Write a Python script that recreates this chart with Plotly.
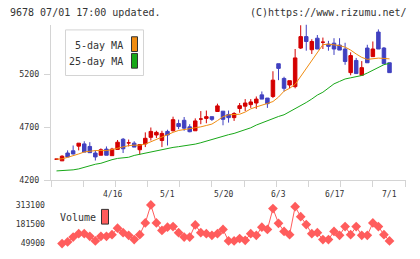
import plotly.graph_objects as go

W, H = 420, 259

# ---- data ----
idx = list(range(61))
label_idx = [10, 20, 30, 40, 50, 60]
label_text = ["4/16", "5/1", "5/20", "6/3", "6/17", "7/1"]

# candle colour: R = red (up / doji), B = blue (down)
colour = ["R","R","B","B","R","B","B","B","R","B","R","R","B","R","B","R","R","R","R","R",
          "B","R","B","B","B","R","R","R","B","R","B","B","R","R","R","R","R","B","B","R",
          "B","B","R","R","R","B","R","B","R","B","B","B","B","R","B","R","B","R","B","B","B"]
open_ = [4401,4385,4459,4480,4524,4545,4521,4459,4438,4496,4434,4493,4589,4555,4552,4490,4545,4607,4629,4577,
         4663,4669,4737,4768,4706,4669,4780,4786,4802,4851,4854,4823,4793,4879,4901,4916,4931,5008,4978,4993,
         5302,5163,5101,5086,5450,5558,5434,5543,5505,5487,5496,5478,5441,5218,5333,5193,5450,5369,5601,5450,5311]
high  = [4401,4438,4484,4530,4552,4570,4561,4484,4503,4521,4508,4582,4601,4586,4570,4539,4654,4700,4669,4669,
         4679,4802,4774,4799,4731,4786,4855,4860,4802,4925,4854,4860,4845,4931,4968,4968,4993,5040,4978,5231,
         5302,5179,5142,5441,5665,5672,5533,5573,5549,5518,5543,5543,5500,5410,5357,5327,5481,5512,5626,5460,5311]
low   = [4401,4385,4422,4445,4484,4468,4460,4388,4438,4438,4434,4493,4459,4521,4515,4444,4515,4577,4601,4515,
         4530,4663,4684,4669,4655,4669,4731,4740,4762,4851,4721,4746,4762,4839,4855,4885,4876,4968,4885,4978,
         5147,5040,5070,5070,5441,5425,5394,5441,5441,5425,5385,5431,5292,5193,5209,5193,5311,5369,5441,5302,5218]
close = [4401,4429,4422,4450,4552,4468,4462,4422,4490,4438,4496,4561,4499,4555,4515,4539,4598,4663,4654,4644,
         4629,4774,4709,4694,4660,4762,4780,4802,4777,4904,4777,4793,4832,4906,4931,4941,4968,4968,4925,5147,
         5258,5070,5142,5357,5558,5512,5512,5441,5505,5466,5441,5431,5323,5379,5209,5265,5311,5441,5441,5302,5218]

ma5 = [4401,4404,4418,4431,4450,4469,4478,4482,4482,4482,4492,4506,4515,4529,4533,4533,4543,4566,4584,4607,
       4635,4654,4672,4681,4684,4695,4706,4719,4732,4765,4802,4820,4820,4825,4846,4876,4894,4908,4927,4945,
       4987,5043,5070,5107,5181,5256,5339,5413,5482,5487,5482,5473,5459,5431,5394,5362,5343,5348,5355,5352,5348]
ma25 = [4290,4291,4294,4300,4309,4325,4339,4353,4362,4381,4396,4408,4413,4419,4436,4447,4461,4475,4484,4494,
        4503,4512,4519,4526,4529,4543,4556,4572,4586,4598,4617,4632,4644,4660,4677,4697,4723,4744,4760,4783,
        4804,4820,4848,4876,4904,4936,4969,5006,5033,5075,5112,5135,5158,5169,5177,5191,5214,5240,5269,5293,5306]

volume = [None,49900,60600,94100,116900,116900,98800,67300,98800,98800,110200,154400,123600,105500,76700,110200,
          190500,313100,190500,139000,161100,165800,123600,94100,94100,177100,123600,116900,105500,116900,
          145700,67300,67300,83400,72000,116900,105500,161100,145700,288300,187900,132300,110200,301700,
          232700,179200,116900,123600,76700,76700,132300,105500,165800,110200,165800,105500,105500,190500,
          165800,110200,67300]
vol_ticks = [49900, 181500, 313100]
price_ticks = [4200, 4700, 5200]

RED = "#d40000"
BLUE = "#4040c0"
ORANGE = "#f08c10"
GREEN = "#18a818"
VOLC = "#ff5c5c"
AXC = "#d4d4d4"
TXT = "#333333"
FONT = "DejaVu Sans Mono"

def px(x):
    return x / W

def py(y):
    return 1 - y / H

fig = go.Figure()

def sub(sel):
    pick = [i for i in idx if colour[i] == sel]
    return (pick, [open_[i] for i in pick], [high[i] for i in pick],
            [low[i] for i in pick], [close[i] for i in pick])

for sel, col in (("R", RED), ("B", BLUE)):
    xs, o, h, l, c = sub(sel)
    fig.add_trace(go.Candlestick(
        x=xs, open=o, high=h, low=l, close=c,
        increasing=dict(line=dict(color=col, width=1), fillcolor=col),
        decreasing=dict(line=dict(color=col, width=1), fillcolor=col),
        whiskerwidth=0, showlegend=False, hoverinfo="skip",
        xaxis="x", yaxis="y"))

fig.add_trace(go.Scatter(x=idx, y=ma5, mode="lines", line=dict(color=ORANGE, width=1),
                         showlegend=False, hoverinfo="skip", xaxis="x", yaxis="y"))
fig.add_trace(go.Scatter(x=idx, y=ma25, mode="lines", line=dict(color=GREEN, width=1),
                         showlegend=False, hoverinfo="skip", xaxis="x", yaxis="y"))

fig.add_trace(go.Scatter(x=idx, y=volume, mode="lines+markers",
                         line=dict(color=VOLC, width=1),
                         marker=dict(symbol="diamond", size=7.5, color=VOLC, line=dict(width=0)),
                         showlegend=False, hoverinfo="skip", xaxis="x2", yaxis="y2"))

x0, x1 = 51, 406
sp = 5.55
xr = [(x0 - 56.5) / sp, (x1 - 56.5) / sp]
grid_ticks = [xr[0] + k * (405 - 51) / 11 / sp for k in range(12)]

fig.update_layout(
    width=W, height=H, margin=dict(l=0, r=0, t=0, b=0),
    paper_bgcolor="white", plot_bgcolor="white",
    boxgap=0.1, hovermode=False,
    xaxis=dict(domain=[px(x0), px(x1)], range=xr, anchor="y",
               showline=True, linecolor=AXC, linewidth=1,
               showgrid=False, zeroline=False,
               tickmode="array", tickvals=grid_ticks, ticktext=[""] * 12,
               ticks="outside", ticklen=6, tickcolor=AXC, tickwidth=1,
               rangeslider=dict(visible=False)),
    yaxis=dict(domain=[py(184), py(25)], range=[4200, 4200 + 159 * 500 / 54], anchor="x",
               showline=True, linecolor=AXC, linewidth=1,
               showgrid=False, zeroline=False,
               tickmode="array", tickvals=price_ticks, ticktext=[str(v) for v in price_ticks],
               ticks="outside", ticklen=6, tickcolor=AXC, tickwidth=1,
               ticklabelstandoff=3,
               tickfont=dict(family=FONT, size=8.3, color=TXT)),
    xaxis2=dict(domain=[px(x0), px(x1)], range=xr, anchor="y2", visible=False),
    yaxis2=dict(domain=[py(256), py(200)],
                range=[49900 - 7.7 * 6697, 49900 + 48.3 * 6697],
                anchor="free", position=px(45), showline=False, showgrid=False, zeroline=False,
                tickmode="array", tickvals=vol_ticks, ticktext=[str(v) for v in vol_ticks], ticks="",
                tickfont=dict(family=FONT, size=8.1, color=TXT)),
    font=dict(family=FONT, color=TXT),
)

ann = []
for li, lt in zip(label_idx, label_text):
    ann.append(dict(x=li, y=py(198), xref="x", yref="paper", text=lt, showarrow=False,
                    xanchor="center", yanchor="middle", font=dict(family=FONT, size=8, color=TXT)))
ann.append(dict(x=px(8), y=py(13), xref="paper", yref="paper", text="9678 07/01 17:00 updated.",
                showarrow=False, xanchor="left", yanchor="middle", font=dict(family=FONT, size=10, color=TXT)))
ann.append(dict(x=px(409), y=py(13), xref="paper", yref="paper", text="(C)https://www.rizumu.net/",
                showarrow=False, xanchor="right", yanchor="middle", font=dict(family=FONT, size=10, color=TXT)))
ann.append(dict(x=px(125), y=py(46), xref="paper", yref="paper", text="5-day MA",
                showarrow=False, xanchor="right", yanchor="middle", font=dict(family=FONT, size=10, color=TXT)))
ann.append(dict(x=px(125), y=py(63), xref="paper", yref="paper", text="25-day MA",
                showarrow=False, xanchor="right", yanchor="middle", font=dict(family=FONT, size=10, color=TXT)))
ann.append(dict(x=px(58), y=py(221.5), xref="paper", yref="paper", text="Volume",
                showarrow=False, xanchor="left", yanchor="middle", font=dict(family=FONT, size=10, color=TXT)))

shapes = [
    dict(type="rect", xref="paper", yref="paper", x0=px(65.5), x1=px(143.5), y0=py(30.5), y1=py(77),
         line=dict(color=AXC, width=1), fillcolor="white", layer="below"),
    dict(type="rect", xref="paper", yref="paper", x0=px(131.5), x1=px(137.5), y0=py(37.5), y1=py(52.5),
         line=dict(color="#333333", width=1), fillcolor=ORANGE),
    dict(type="rect", xref="paper", yref="paper", x0=px(131.5), x1=px(137.5), y0=py(54.5), y1=py(69.5),
         line=dict(color="#333333", width=1), fillcolor=GREEN),
    dict(type="rect", xref="paper", yref="paper", x0=px(101.5), x1=px(108.5), y0=py(213.5), y1=py(228.5),
         line=dict(color="#333333", width=1), fillcolor=VOLC),
]
fig.update_layout(annotations=ann, shapes=shapes)

fig.write_html("out.html")
